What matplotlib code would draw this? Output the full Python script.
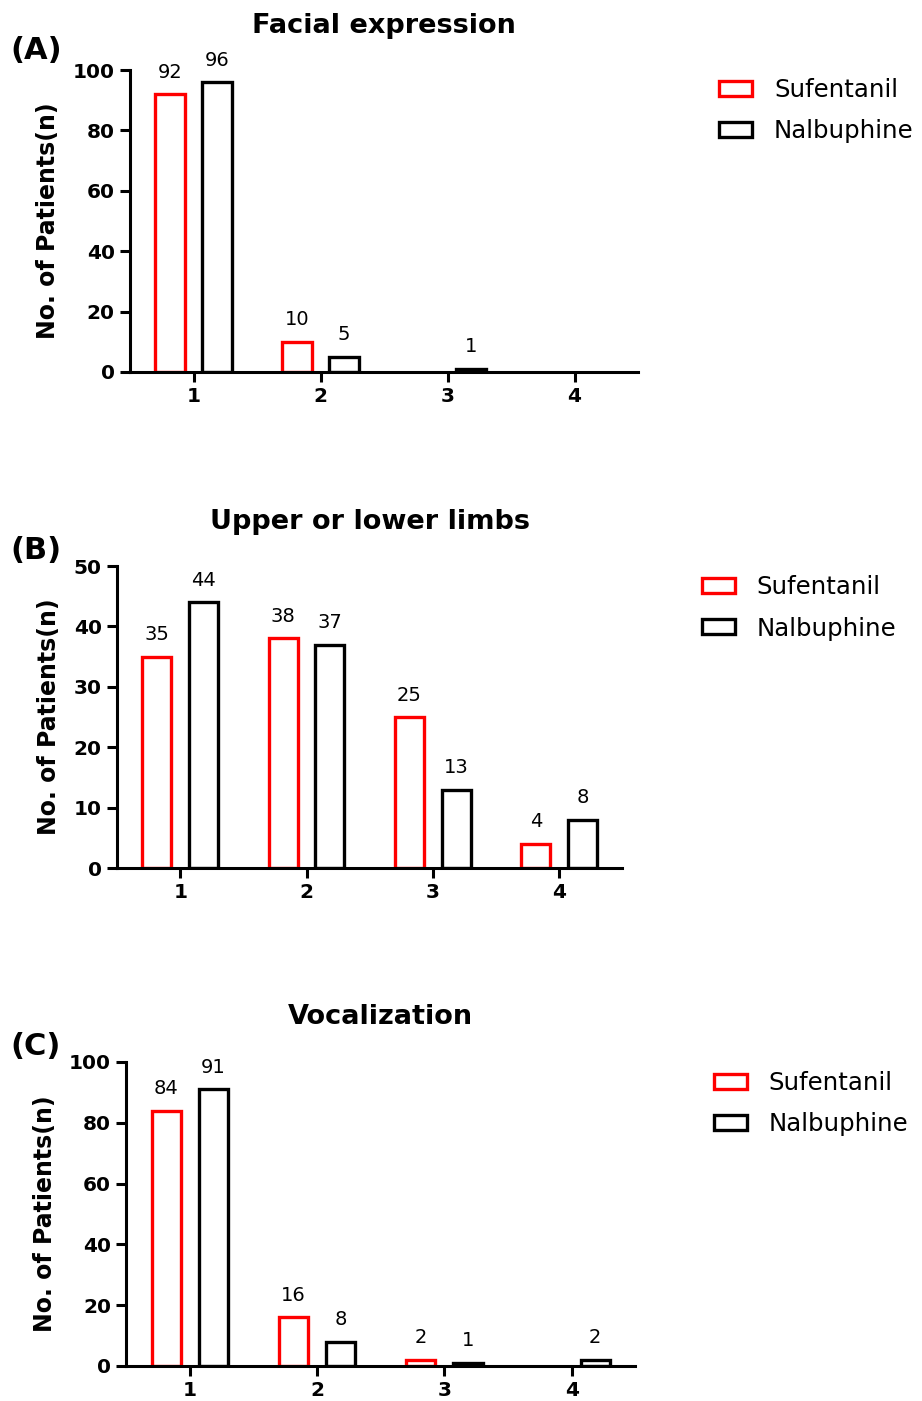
import numpy as np
import matplotlib.pyplot as plt

plt.rcParams['font.family'] = ['DejaVu Sans']

scores = [1, 2, 3, 4]
titles = ['Facial expression', 'Upper or lower limbs', 'Vocalization']
panel_tags = ['(A)', '(B)', '(C)']
sufentanil = [[92, 10, 0, 0], [35, 38, 25, 4], [84, 16, 2, 0]]
nalbuphine = [[96, 5, 1, 0], [44, 37, 13, 8], [91, 8, 1, 2]]
y_max = [100, 50, 100]
y_step = [20, 10, 20]

# axes boxes in figure fractions [left, bottom, width, height]
boxes = [[0.141, 0.7345, 0.551, 0.2155],
         [0.127, 0.3804, 0.548, 0.2156],
         [0.137, 0.025, 0.552, 0.217]]
legend_pos = [(0.756, 0.960), (0.737, 0.605), (0.750, 0.251)]
tag_y = [0.9643, 0.6074, 0.2527]

fig = plt.figure(figsize=(9.22, 14.01), dpi=100)

for i in range(3):
    ax = fig.add_axes(boxes[i])
    x = np.array(scores)
    off = 0.185
    w = 0.23
    b1 = ax.bar(x - off, sufentanil[i], width=w, facecolor='white', edgecolor='#ff0000',
                linewidth=2.4, label='Sufentanil')
    b2 = ax.bar(x + off, nalbuphine[i], width=w, facecolor='white', edgecolor='black',
                linewidth=2.4, label='Nalbuphine')
    for bars, vals in [(b1, sufentanil[i]), (b2, nalbuphine[i])]:
        for bar, v in zip(bars, vals):
            if v > 0:
                ax.annotate(str(v), (bar.get_x() + bar.get_width() / 2, v),
                            xytext=(0, 9), textcoords='offset points',
                            ha='center', va='bottom', fontsize=14)
            else:
                bar.set_visible(False)
    ax.set_xlim(0.5, 4.5)
    ax.set_ylim(0, y_max[i])
    ax.set_xticks(scores)
    ax.set_yticks(np.arange(0, y_max[i] + 1, y_step[i]))
    for key, spine in ax.spines.items():
        spine.set_linewidth(2.2)
    ax.spines['top'].set_visible(False)
    ax.spines['right'].set_visible(False)
    ax.tick_params(width=2.2, length=7, labelsize=14.5, pad=4)
    for lab in ax.get_xticklabels() + ax.get_yticklabels():
        lab.set_fontweight('bold')
    ax.set_ylabel('No. of Patients(n)', fontsize=17, fontweight='bold', labelpad=9)
    ax.set_title(titles[i], fontsize=19.5, fontweight='bold', pad=27)
    fig.text(0.011, tag_y[i], panel_tags[i], fontsize=22,
             fontweight='bold', ha='left', va='center')
    fig.legend(handles=[b1, b2], loc='upper left', bbox_to_anchor=legend_pos[i],
               frameon=False, fontsize=17.6, handlelength=1.35, handleheight=0.55,
               labelspacing=0.7, handletextpad=0.9)

fig.savefig('out.png', dpi=100)
